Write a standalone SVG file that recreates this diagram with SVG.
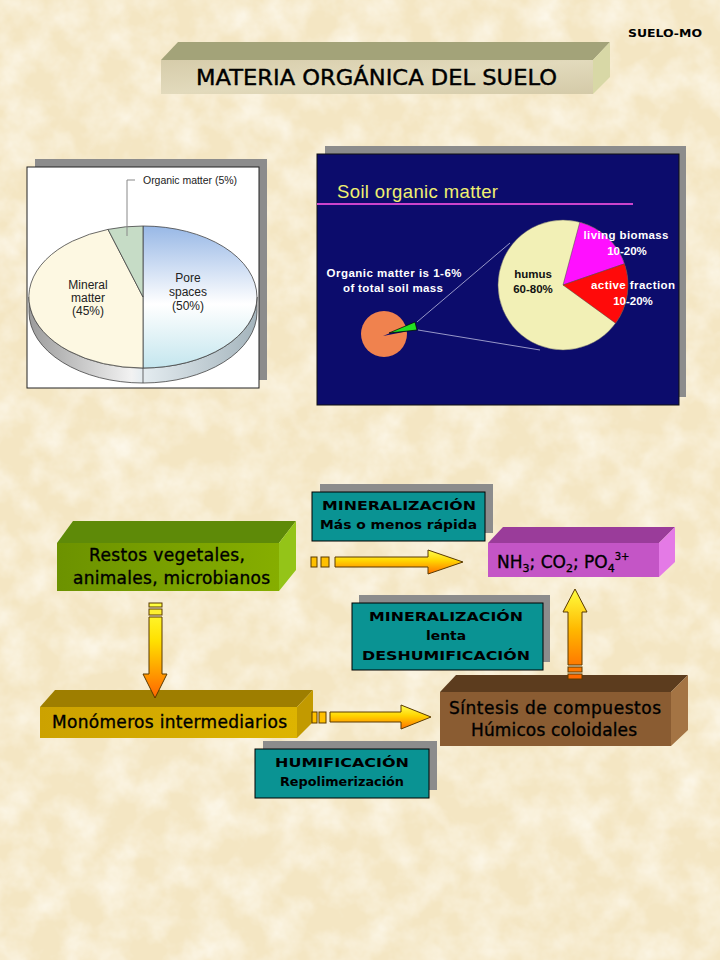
<svg xmlns="http://www.w3.org/2000/svg" width="720" height="960" viewBox="0 0 720 960">
<defs>
<style>
.cm{font-family:"DejaVu Sans","Liberation Sans",sans-serif;fill:#000}
.node{font-size:17px;stroke:#000;stroke-width:0.35px}
.lbl{font-size:12.5px;font-weight:bold}
.ar{font-family:"Liberation Sans",Arial,sans-serif}
.teal{fill:#0A9393;stroke:#000;stroke-width:1}
.shadow{fill:#8C8C8C}
.arrow{stroke:#5A3A00;stroke-width:1}
</style>
<filter id="paper" x="0" y="0" width="100%" height="100%">
<feTurbulence type="fractalNoise" baseFrequency="0.03" numOctaves="4" seed="7"/>
<feColorMatrix type="matrix" values="0 0 0 0 1  0 0 0 0 0.98  0 0 0 0 0.92  1.3 0 0 0 -0.45"/>
</filter>
<linearGradient id="pore" x1="0" y1="0" x2="0" y2="1">
<stop offset="0" stop-color="#98B8E6"/><stop offset="0.55" stop-color="#FFFFFF"/><stop offset="1" stop-color="#C4E6EE"/>
</linearGradient>
<linearGradient id="rim" x1="0" y1="0" x2="1" y2="0">
<stop offset="0" stop-color="#9C9C9C"/><stop offset="0.45" stop-color="#F2F2F2"/><stop offset="0.5" stop-color="#E4ECF0"/><stop offset="1" stop-color="#A4B4BC"/>
</linearGradient>
<linearGradient id="gFront" x1="0" y1="0" x2="1" y2="0"><stop offset="0" stop-color="#6C9200"/><stop offset="1" stop-color="#86AE00"/></linearGradient>
<linearGradient id="yFront" x1="0" y1="0" x2="1" y2="0"><stop offset="0" stop-color="#CCA200"/><stop offset="1" stop-color="#DDB400"/></linearGradient>
<linearGradient id="tFront" x1="0" y1="0" x2="1" y2="1"><stop offset="0" stop-color="#D6CCAA"/><stop offset="0.5" stop-color="#E2DABC"/><stop offset="1" stop-color="#D4CAA8"/></linearGradient>
<linearGradient id="aH" x1="0" y1="0" x2="0" y2="1"><stop offset="0" stop-color="#FFFF50"/><stop offset="0.45" stop-color="#FFD400"/><stop offset="1" stop-color="#FF7000"/></linearGradient>
<linearGradient id="aDown" gradientUnits="userSpaceOnUse" x1="0" y1="603" x2="0" y2="698"><stop offset="0" stop-color="#FFFF40"/><stop offset="0.4" stop-color="#FFE000"/><stop offset="1" stop-color="#FF6400"/></linearGradient>
<linearGradient id="aUp" gradientUnits="userSpaceOnUse" x1="0" y1="589" x2="0" y2="679"><stop offset="0" stop-color="#FFFF40"/><stop offset="0.45" stop-color="#FFB800"/><stop offset="1" stop-color="#FF6000"/></linearGradient>
</defs>

<rect width="720" height="960" fill="#F4E6C3"/>
<rect width="720" height="960" filter="url(#paper)"/>

<text id="suelo-mo" class="cm" x="628" y="37" font-size="11" font-weight="bold" textLength="74" lengthAdjust="spacingAndGlyphs">SUELO-MO</text>

<g id="title">
<polygon points="161,60 178,42 610,42 593,60" fill="#A3A379"/>
<polygon points="593,60 610,42 610,77 593,94" fill="#D8D8A6"/>
<rect x="161" y="60" width="432" height="34" fill="url(#tFront)"/>
<text class="cm" x="196" y="85" font-size="21" stroke="#000" stroke-width="0.4" textLength="361" lengthAdjust="spacingAndGlyphs">MATERIA ORGÁNICA DEL SUELO</text>
</g>

<g id="pie-soil-composition">
<rect x="35" y="159" width="232" height="221" class="shadow"/>
<rect x="27" y="167" width="232" height="221" fill="#FFFFFF" stroke="#222" stroke-width="1"/>
<path d="M29,297 L29,312 A114,71 0 0 0 257,312 L257,297 A114,71 0 0 1 29,297 Z" fill="url(#rim)" stroke="#444" stroke-width="0.8"/>
<line x1="143" y1="368" x2="143" y2="383" stroke="#444" stroke-width="0.8"/>
<path d="M143,297 L143,226 A114,71 0 0 1 143,368 Z" fill="url(#pore)" stroke="#444" stroke-width="0.8"/>
<path d="M143,297 L143,368 A114,71 0 0 1 108,229.4 Z" fill="#FDF8E2" stroke="#444" stroke-width="0.8"/>
<path d="M143,297 L108,229.4 A114,71 0 0 1 143,226 Z" fill="#C6DCC6" stroke="#444" stroke-width="0.8"/>
<polyline points="135,180 127,180 127,236" fill="none" stroke="#888" stroke-width="1"/>
<text class="ar" x="143" y="184" font-size="10.5" fill="#222" textLength="94">Organic matter (5%)</text>
<g class="ar" font-size="12" fill="#222" text-anchor="middle">
<text x="88" y="289">Mineral</text>
<text x="88" y="302">matter</text>
<text x="88" y="315">(45%)</text>
<text x="188" y="282">Pore</text>
<text x="188" y="296">spaces</text>
<text x="188" y="310">(50%)</text>
</g>
</g>

<g id="pie-soil-organic-matter">
<rect x="325" y="146" width="361" height="251" class="shadow"/>
<rect x="317" y="154" width="362" height="251" fill="#0C0C6C" stroke="#111" stroke-width="1"/>
<text class="ar" x="337" y="198" font-size="18.5" fill="#F0F070" textLength="161">Soil organic matter</text>
<line x1="317" y1="204" x2="633" y2="204" stroke="#CC44CC" stroke-width="2"/>
<line x1="417" y1="322" x2="510" y2="243" stroke="#9898C8" stroke-width="1"/>
<line x1="418" y1="330" x2="540" y2="350" stroke="#9898C8" stroke-width="1"/>
<circle cx="384" cy="334" r="23" fill="#F0824E"/>
<polygon points="383,336 407,326 409,331" fill="#0C0C6C"/>
<polygon points="389,333 415,322 417,330" fill="#22E022" stroke="#000" stroke-width="0.7"/>
<circle cx="563" cy="285" r="65" fill="#F2F0B6" stroke="#666" stroke-width="0.5"/>
<path d="M563,285 L579.8,222.2 A65,65 0 0 1 624.5,263.8 Z" fill="#FF10FF" stroke="#444" stroke-width="0.5"/>
<path d="M563,285 L624.5,263.8 A65,65 0 0 1 615.6,323.2 Z" fill="#FF0A0A" stroke="#444" stroke-width="0.5"/>
<g class="ar" font-size="11.5" font-weight="bold" text-anchor="middle">
<text x="394" y="277" fill="#FFFFFF" textLength="135">Organic matter is 1-6%</text>
<text x="393" y="292" fill="#FFFFFF" textLength="100">of total soil mass</text>
<text x="533" y="278" fill="#111">humus</text>
<text x="533" y="293" fill="#111">60-80%</text>
<text x="626" y="239" fill="#FFFFFF" textLength="85">living biomass</text>
<text x="627" y="255" fill="#FFFFFF">10-20%</text>
<text x="633" y="289" fill="#FFFFFF" textLength="84">active fraction</text>
<text x="633" y="305" fill="#FFFFFF">10-20%</text>
</g>
</g>

<g id="node-restos">
<polygon points="57,543 73,521 296,521 279,543" fill="#5E8A08"/>
<polygon points="279,543 296,521 296,570 279,591" fill="#94C418"/>
<rect x="57" y="543" width="222" height="48" fill="url(#gFront)"/>
<text class="cm node" x="89" y="561" textLength="156">Restos vegetales,</text>
<text class="cm node" x="73" y="584" textLength="197">animales, microbianos</text>
</g>

<g id="node-nh3">
<polygon points="488,543 503,527 675,527 659,543" fill="#9A3C9A"/>
<polygon points="659,543 675,527 675,562 659,577" fill="#E47AE6"/>
<rect x="488" y="543" width="171" height="34" fill="#C455C6"/>
<text class="cm node" x="497" y="568">NH<tspan font-size="11" dy="4">3</tspan><tspan dy="-4">; CO</tspan><tspan font-size="11" dy="4">2</tspan><tspan dy="-4">; PO</tspan><tspan font-size="11" dy="4">4</tspan><tspan font-size="10" dy="-12">3+</tspan></text>
</g>

<g id="node-monomeros">
<polygon points="40,707 55,690 313,690 297,707" fill="#9E7E00"/>
<polygon points="297,707 313,690 313,722 297,738" fill="#C29A00"/>
<rect x="40" y="707" width="257" height="31" fill="url(#yFront)"/>
<text class="cm node" x="52" y="728" textLength="235">Monómeros intermediarios</text>
</g>

<g id="node-sintesis">
<polygon points="440,692 456,675 688,675 671,692" fill="#5C3C1E"/>
<polygon points="671,692 688,675 688,730 671,746" fill="#A47444"/>
<rect x="440" y="692" width="231" height="54" fill="#8A5C32"/>
<text class="cm node" x="449" y="714" textLength="212">Síntesis de compuestos</text>
<text class="cm node" x="471" y="736" textLength="166">Húmicos coloidales</text>
</g>

<g id="label-mineralizacion-rapida">
<rect x="320" y="484" width="173" height="49" class="shadow"/>
<rect x="312" y="492" width="173" height="49" class="teal"/>
<text class="cm lbl" x="322" y="510" textLength="154" lengthAdjust="spacingAndGlyphs">MINERALIZACIÓN</text>
<text class="cm lbl" x="320" y="529" textLength="157" lengthAdjust="spacingAndGlyphs">Más o menos rápida</text>
</g>

<g id="label-mineralizacion-lenta">
<rect x="359" y="595" width="191" height="67" class="shadow"/>
<rect x="352" y="603" width="191" height="67" class="teal"/>
<text class="cm lbl" x="369" y="621" textLength="154" lengthAdjust="spacingAndGlyphs">MINERALIZACIÓN</text>
<text class="cm lbl" x="426" y="640" textLength="40" lengthAdjust="spacingAndGlyphs">lenta</text>
<text class="cm lbl" x="362" y="660" textLength="168" lengthAdjust="spacingAndGlyphs">DESHUMIFICACIÓN</text>
</g>

<g id="label-humificacion">
<rect x="263" y="741" width="174" height="49" class="shadow"/>
<rect x="255" y="749" width="174" height="49" class="teal"/>
<text class="cm lbl" x="275" y="767" textLength="134" lengthAdjust="spacingAndGlyphs">HUMIFICACIÓN</text>
<text class="cm lbl" x="280" y="786" textLength="124" lengthAdjust="spacingAndGlyphs">Repolimerización</text>
</g>

<g id="connectors">
<g id="arrow-restos-nh3" class="arrow">
<rect x="311" y="557" width="6" height="10" fill="#FFC000"/>
<rect x="321" y="557" width="8" height="10" fill="#FFC000"/>
<polygon points="335,557 428,557 428,550 463,562 428,574 428,567 335,567" fill="url(#aH)"/>
</g>
<g id="arrow-restos-monomeros" class="arrow">
<rect x="149" y="603" width="13" height="4" fill="#FFFF40"/>
<rect x="149" y="609" width="13" height="6" fill="#FFF030"/>
<polygon points="149,617 162,617 162,674 167,674 155,698 143,674 149,674" fill="url(#aDown)"/>
</g>
<g id="arrow-monomeros-sintesis" class="arrow">
<rect x="312" y="712" width="5" height="11" fill="#FFC000"/>
<rect x="319" y="712" width="7" height="11" fill="#FFC000"/>
<polygon points="330,712 401,712 401,705 431,717 401,729 401,722 330,722" fill="url(#aH)"/>
</g>
<g id="arrow-sintesis-nh3" class="arrow">
<polygon points="575,589 587,612 582,612 582,665 568,665 568,612 563,612" fill="url(#aUp)"/>
<rect x="568" y="667" width="14" height="5" fill="#FF7800"/>
<rect x="568" y="674" width="14" height="5" fill="#FF6A00"/>
</g>
</g>
</svg>
